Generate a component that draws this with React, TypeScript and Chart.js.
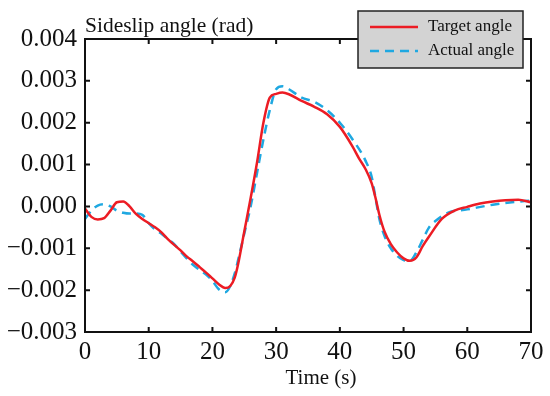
import React, { useEffect, useRef } from "react";
import { Chart, registerables } from "chart.js";

Chart.register(...registerables);

const targetTime = [0, 1, 2, 3, 4, 5, 6, 7, 8, 9, 10, 11, 12, 13, 14, 15, 16, 17, 18, 19, 20, 21, 22, 22.8, 23.5, 24, 25, 26, 27, 28, 29, 30, 31, 32, 34, 36, 38, 40, 42, 43, 44, 45, 45.6, 46.2, 47, 48, 49, 50, 51, 52, 53, 54, 56, 58, 60, 62, 64, 66, 68, 70];
const targetAngle = [-0.00005, -0.00025, -0.00031, -0.00028, -0.0001, 0.0001, 0.00012, 0.0, -0.00018, -0.0003, -0.0004, -0.0005, -0.00062, -0.00078, -0.00092, -0.00105, -0.0012, -0.00132, -0.00145, -0.00158, -0.00172, -0.00186, -0.00195, -0.0019, -0.0017, -0.0014, -0.0006, 0.0002, 0.00105, 0.002, 0.0026, 0.00269, 0.00272, 0.00268, 0.00252, 0.00238, 0.0022, 0.0019, 0.00143, 0.00115, 0.0009, 0.00055, 0.0002, -0.0002, -0.0006, -0.0009, -0.0011, -0.00124, -0.0013, -0.00122, -0.00095, -0.00072, -0.0003, -0.0001, -0.00001, 0.00007, 0.00012, 0.00015, 0.00016, 0.0001];

const actualTime = [0, 1, 2, 3, 4, 5, 6, 7, 8, 9, 10, 11, 12, 13, 14, 15, 16, 17, 18, 19, 20, 21, 22, 22.8, 23.5, 24, 25, 26, 27, 28, 29, 30, 31, 32, 34, 36, 38, 40, 42, 44, 45, 45.6, 46.2, 47, 48, 49, 50, 51, 52, 53, 54, 55, 57, 60, 64, 67, 70];
const actualAngle = [-0.0003, -0.0001, 0.00002, 0.00005, 0.0, -0.0001, -0.00015, -0.00017, -0.00017, -0.0002, -0.0004, -0.00055, -0.00065, -0.00078, -0.0009, -0.00108, -0.00125, -0.0014, -0.00152, -0.00163, -0.00178, -0.00198, -0.00205, -0.0019, -0.0016, -0.0013, -0.00065, 0.0, 0.0008, 0.0016, 0.0023, 0.0028, 0.00287, 0.0028, 0.0026, 0.0025, 0.0023, 0.002, 0.0016, 0.0011, 0.0007, 0.0002, -0.0003, -0.0007, -0.001, -0.00118, -0.00128, -0.0013, -0.0011, -0.0008, -0.0005, -0.00035, -0.00015, -0.00007, 0.00004, 0.0001, 0.00014];

const xTicks = [0, 10, 20, 30, 40, 50, 60, 70];
const yTicks = [-0.003, -0.002, -0.001, 0.0, 0.001, 0.002, 0.003, 0.004];

const seriesNames = ["Target angle", "Actual angle"];
const yTitle = "Sideslip angle (rad)";
const xTitle = "Time (s)";

const FONT = "'Liberation Serif', 'Times New Roman', serif";
const RED = "#ec1c24";
const BLUE = "#1fa8e1";

const framePlugin = {
  id: "frame",
  afterDraw(chart: any) {
    const ctx = chart.ctx;
    const { left, right, top, bottom } = chart.chartArea;
    const xs = chart.scales.x;
    const ys = chart.scales.y;
    ctx.save();
    ctx.strokeStyle = "#111";
    ctx.lineWidth = 2;
    ctx.strokeRect(left, top, right - left, bottom - top);
    const tl = 5;
    ctx.beginPath();
    xTicks.forEach((v) => {
      const px = xs.getPixelForValue(v);
      ctx.moveTo(px, bottom);
      ctx.lineTo(px, bottom - tl);
      ctx.moveTo(px, top);
      ctx.lineTo(px, top + tl);
    });
    yTicks.forEach((v) => {
      const py = ys.getPixelForValue(v);
      ctx.moveTo(left, py);
      ctx.lineTo(left + tl, py);
      ctx.moveTo(right, py);
      ctx.lineTo(right - tl, py);
    });
    ctx.stroke();

    // titles
    ctx.fillStyle = "#111";
    ctx.font = `21.5px ${FONT}`;
    ctx.textAlign = "left";
    ctx.textBaseline = "alphabetic";
    ctx.fillText(yTitle, left, top - 7);
    ctx.font = `21px ${FONT}`;
    ctx.textAlign = "center";
    ctx.fillText(xTitle, (left + right) / 2 + 13, bottom + 52);

    // legend
    const bx = right - 173;
    const by = 11;
    const bw = 165;
    const bh = 57;
    ctx.fillStyle = "#d3d3d3";
    ctx.fillRect(bx, by, bw, bh);
    ctx.lineWidth = 1.5;
    ctx.strokeStyle = "#222";
    ctx.strokeRect(bx, by, bw, bh);
    ctx.lineWidth = 2.5;
    ctx.strokeStyle = RED;
    ctx.beginPath();
    ctx.moveTo(bx + 12, by + 16);
    ctx.lineTo(bx + 60, by + 16);
    ctx.stroke();
    ctx.strokeStyle = BLUE;
    ctx.setLineDash([9, 6]);
    ctx.beginPath();
    ctx.moveTo(bx + 12, by + 40);
    ctx.lineTo(bx + 60, by + 40);
    ctx.stroke();
    ctx.setLineDash([]);
    ctx.fillStyle = "#111";
    ctx.font = `17px ${FONT}`;
    ctx.textAlign = "left";
    ctx.textBaseline = "middle";
    ctx.fillText(seriesNames[0], bx + 70, by + 16);
    ctx.fillText(seriesNames[1], bx + 70, by + 40);
    ctx.restore();
  },
};

export default function App() {
  const ref = useRef<HTMLCanvasElement>(null);
  useEffect(() => {
    document.body.style.margin = "0";
    const chart = new Chart(ref.current!, {
      type: "line",
      data: {
        datasets: [
          {
            label: seriesNames[0],
            data: targetTime.map((t, i) => ({ x: t, y: targetAngle[i] })),
            borderColor: RED,
            borderWidth: 2.5,
            pointRadius: 0,
            cubicInterpolationMode: "monotone",
          },
          {
            label: seriesNames[1],
            data: actualTime.map((t, i) => ({ x: t, y: actualAngle[i] })),
            borderColor: BLUE,
            borderWidth: 2.5,
            borderDash: [9, 6],
            pointRadius: 0,
            cubicInterpolationMode: "monotone",
          },
        ],
      },
      options: {
        animation: false,
        responsive: false,
        layout: { padding: { left: 0, right: 19, top: 39, bottom: 0 } },
        plugins: { legend: { display: false }, tooltip: { enabled: false } },
        scales: {
          x: {
            type: "linear",
            min: 0,
            max: 70,
            afterFit: (s: any) => {
              s.height = 64;
            },
            afterBuildTicks: (s: any) => {
              s.ticks = xTicks.map((v) => ({ value: v }));
            },
            grid: { display: false, drawTicks: false },
            border: { display: false },
            ticks: {
              color: "#111",
              font: { family: FONT, size: 25 },
              padding: 5,
              maxRotation: 0,
            },
          },
          y: {
            type: "linear",
            min: -0.003,
            max: 0.004,
            afterFit: (s: any) => {
              s.width = 85;
            },
            afterBuildTicks: (s: any) => {
              s.ticks = yTicks.map((v) => ({ value: v }));
            },
            grid: { display: false, drawTicks: false },
            border: { display: false },
            ticks: {
              color: "#111",
              font: { family: FONT, size: 25 },
              padding: 8,
              callback: (v: any) => {
                const n = Number(v);
                const s = Math.abs(n).toFixed(3);
                return n < -1e-9 ? "\u2212" + s : s;
              },
            },
          },
        },
      },
      plugins: [framePlugin],
    } as any);
    return () => chart.destroy();
  }, []);
  return (
    <div style={{ width: 550, height: 396, background: "#fff" }}>
      <canvas ref={ref} width={550} height={396} style={{ display: "block" }} />
    </div>
  );
}
